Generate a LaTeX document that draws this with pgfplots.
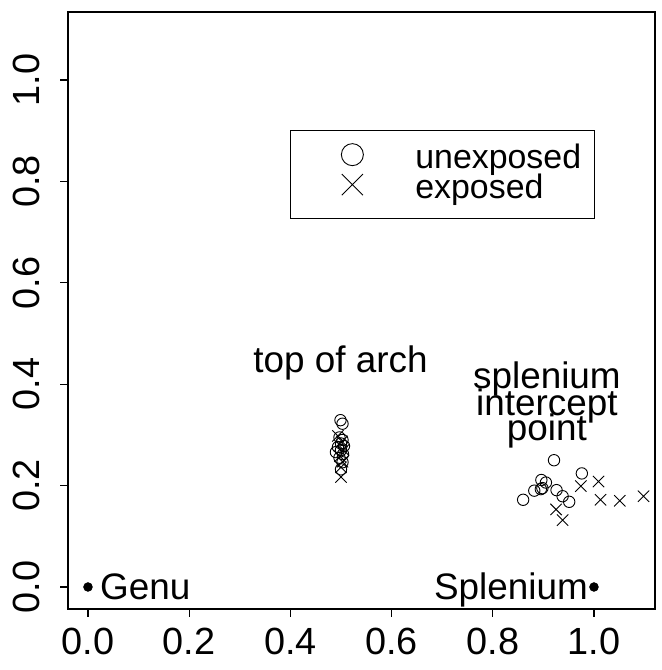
\documentclass[border=0pt]{standalone}
\usepackage{pgfplots}
\pgfplotsset{compat=1.18}
\usepackage{fontspec}
\setmainfont{Liberation Sans}
\begin{document}
\begin{tikzpicture}
\begin{axis}[
  scale only axis, width=587bp, height=597bp,
  xmin=-0.0395, xmax=1.1206, ymin=-0.0434, ymax=1.134,
  xtick={0,0.2,0.4,0.6,0.8,1.0}, ytick={0,0.2,0.4,0.6,0.8,1.0},
  xticklabels={0.0,0.2,0.4,0.6,0.8,1.0},
  yticklabels={0.0,0.2,0.4,0.6,0.8,1.0},
  tick align=outside, xtick pos=bottom, ytick pos=left,
  major tick length=8bp,
  axis line style={line width=1.2bp},
  every tick/.style={line width=1.2bp, black},
  tick label style={font=\fontsize{38}{40}\selectfont},
  xticklabel style={yshift=-8bp},
  yticklabel style={xshift=-17bp, rotate=90, anchor=south},
  /pgf/number format/assume math mode=true,
  legend style={at={(axis cs:0.399,0.901)}, anchor=north west, draw=black, line width=1bp,
    font=\fontsize{34}{28}\selectfont, inner xsep=13bp, inner ysep=12bp,
    column sep=14bp, row sep=-4bp,
    nodes={inner sep=0pt, text height=20bp, text depth=8bp}},
  legend cell align=left,
  clip=false,
]
\addplot[only marks, mark=o, mark size=5.7bp, line width=0.9bp, black,
  legend image code/.code={\path[draw=none, fill=none] (0bp,-8bp) rectangle (98bp,20bp);
    \draw[black, line width=0.9bp] plot[mark=o, mark size=11bp] coordinates {(49bp,8bp)};}] coordinates {
(0.499,0.329)(0.503,0.322)(0.497,0.295)(0.503,0.290)(0.500,0.283)(0.506,0.278)(0.494,0.276)
(0.500,0.270)(0.490,0.266)(0.504,0.262)(0.497,0.255)(0.503,0.246)(0.500,0.232)
(0.921,0.250)(0.860,0.172)(0.896,0.211)(0.905,0.206)(0.882,0.190)(0.898,0.195)(0.895,0.193)
(0.926,0.191)(0.938,0.179)(0.951,0.168)(0.976,0.224)
};
\addlegendentry{unexposed}
\addplot[only marks, mark=x, mark size=8bp, line width=0.9bp, black,
  legend image code/.code={\path[draw=none, fill=none] (0bp,-8bp) rectangle (98bp,20bp);
    \draw[black, line width=0.9bp] plot[mark=x, mark size=15bp] coordinates {(49bp,8bp)};}] coordinates {
(0.494,0.298)(0.502,0.287)(0.505,0.270)(0.498,0.258)(0.503,0.247)(0.500,0.236)(0.500,0.217)
(1.009,0.208)(0.974,0.199)(0.925,0.153)(0.938,0.132)(1.013,0.172)(1.051,0.170)(1.098,0.179)
};
\addlegendentry{exposed}
\addplot[only marks, mark=*, mark size=4.5bp, black, forget plot] coordinates {(0,0)(1,0)};
\node[anchor=base west, inner sep=0pt, font=\fontsize{37}{40}\selectfont] at ([xshift=12bp,yshift=-13bp]axis cs:0,0) {Genu};
\node[anchor=base east, inner sep=0pt, font=\fontsize{37}{40}\selectfont] at ([xshift=-6bp,yshift=-13bp]axis cs:1,0) {Splenium};
\node[anchor=base, inner sep=0pt, font=\fontsize{37}{40}\selectfont] at (axis cs:0.499,0.424) {top of arch};
\node[anchor=base, inner sep=0pt, font=\fontsize{37}{40}\selectfont] at (axis cs:0.907,0.392) {splenium};
\node[anchor=base, inner sep=0pt, font=\fontsize{37}{40}\selectfont] at (axis cs:0.907,0.339) {intercept};
\node[anchor=base, inner sep=0pt, font=\fontsize{37}{40}\selectfont] at (axis cs:0.907,0.288) {point};
\coordinate (bl) at (rel axis cs:0,0);
\coordinate (tr) at (rel axis cs:1,1);
\end{axis}
\pgfresetboundingbox
\path ([shift={(-68bp,-61bp)}]bl) rectangle ([shift={(7bp,12bp)}]tr);
\end{tikzpicture}
\end{document}
